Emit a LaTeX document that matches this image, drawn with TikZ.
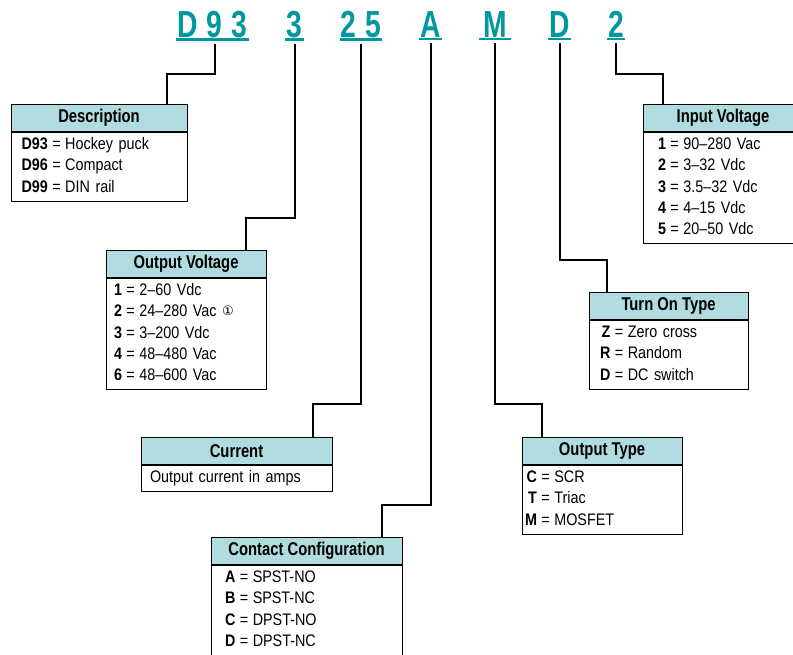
\documentclass[tikz,border=0pt]{standalone}
\usepackage{fontspec}
\setmainfont{Liberation Sans}[FakeStretch=0.86]
\newfontfamily\headfont{Liberation Sans}[FakeStretch=0.8]
\newfontfamily\codefont{Liberation Sans}[FakeStretch=0.75]
\newfontfamily\symfont{DejaVu Sans}
\usepackage{xcolor}
\usetikzlibrary{positioning,calc}
\definecolor{codeteal}{RGB}{0,151,158}
\definecolor{headblue}{RGB}{176,220,224}
\setlength{\parindent}{0pt}
\newcommand{\codelist}[2]{\begin{tabular}{@{\hspace{#1}}r@{\hspace{4.5pt}=\hspace{4.5pt}}l@{}}#2\end{tabular}}

\begin{document}
\begin{tikzpicture}[
    x=1pt, y=-1pt,
    code/.style={font=\codefont\bfseries\fontsize{37.7}{40}\selectfont, text=codeteal, inner xsep=1pt, inner ysep=2pt, anchor=base},
    uline/.style={codeteal, line width=2.3pt},
    head/.style={draw, line width=0.8pt, fill=headblue, font=\headfont\bfseries\fontsize{18.5}{20}\selectfont, minimum height=27pt, inner sep=0pt, anchor=north},
    body/.style={draw, line width=0.8pt, font=\fontsize{16.7}{21.3}\selectfont, inner xsep=0pt, inner ysep=2.5pt, align=left},
    conn/.style={line width=2pt}
]
    \useasboundingbox (0,0) rectangle (793,654);

    % Part number
    \node[code] (cdesc) at (212.5,37) {D\hspace{9pt}9\hspace{9pt}3};
    \node[code] (cov) at (294.5,37) {3};
    \node[code] (ccur) at (361,37) {2\hspace{9pt}5};
    \node[code] (ccc) at (430.5,37) {A};
    \node[code, minimum width=32pt] (cot) at (495,37) {M};
    \node[code] (cto) at (559.5,37) {D};
    \node[code] (civ) at (616,37) {2};
    \foreach \c in {cdesc,cov,ccur,ccc,cot,cto,civ}
        \draw[uline] (\c.south west) -- (\c.south east);

    % Left column
    \node[head, minimum width=176pt] (desch) at (99,104) {Description};
    \node[body, text width=176pt, below=0pt of desch] (descb) {\codelist{10.5pt}{\textbf{D93} & Hockey puck\\ \textbf{D96} & Compact\\ \textbf{D99} & DIN rail}};

    \node[head, minimum width=160pt] (ovh) at (186,250) {Output Voltage};
    \node[body, text width=160pt, below=0pt of ovh] (ovb) {\codelist{8pt}{\textbf{1} & 2--60 Vdc\\ \textbf{2} & 24--280 Vac {\symfont\fontsize{13}{12}\selectfont\raisebox{1.5pt}{①}}\\ \textbf{3} & 3--200 Vdc\\ \textbf{4} & 48--480 Vac\\ \textbf{6} & 48--600 Vac}};

    \node[head, minimum width=191pt] (curh) at (236.5,437) {Current};
    \node[body, text width=191pt, below=0pt of curh] (curb) {\begin{tabular}{@{\hspace{9pt}}l@{}}Output current in amps\end{tabular}};

    \node[head, minimum width=191pt] (cch) at (306.5,537) {Contact Configuration};
    \node[body, text width=191pt, below=0pt of cch] (ccb) {\codelist{14pt}{\textbf{A} & SPST-NO\\ \textbf{B} & SPST-NC\\ \textbf{C} & DPST-NO\\ \textbf{D} & DPST-NC}};

    % Right column
    \node[head, minimum width=160pt] (ivh) at (723,104) {Input Voltage};
    \node[body, text width=160pt, below=0pt of ivh] (ivb) {\codelist{15pt}{\textbf{1} & 90--280 Vac\\ \textbf{2} & 3--32 Vdc\\ \textbf{3} & 3.5--32 Vdc\\ \textbf{4} & 4--15 Vdc\\ \textbf{5} & 20--50 Vdc}};

    \node[head, minimum width=159pt] (toh) at (668.5,292) {Turn On Type};
    \node[body, text width=159pt, below=0pt of toh] (tob) {\codelist{11pt}{\textbf{Z} & Zero cross\\ \textbf{R} & Random\\ \textbf{D} & DC switch}};

    \node[head, minimum width=160pt] (oth) at (602,437) {Output Type};
    \node[body, text width=160pt, below=0pt of oth] (otb) {\codelist{3pt}{\textbf{C} & SCR\\ \textbf{T} & Triac\\ \textbf{M} & MOSFET}};

    % Connectors
    \draw[conn] ([xshift=2pt, yshift=-4pt]cdesc.south) |- ($(desch.north east)+(-20pt,30pt)$) -- ([xshift=-20pt]desch.north east);
    \draw[conn] ([yshift=-4pt]cov.south) |- ($(ovh.north east)+(-20pt,32pt)$) -- ([xshift=-20pt]ovh.north east);
    \draw[conn] ([yshift=-4pt]ccur.south) |- ($(curh.north east)+(-19pt,33pt)$) -- ([xshift=-19pt]curh.north east);
    \draw[conn] ([yshift=-4pt]ccc.south) |- ($(cch.north east)+(-20pt,32pt)$) -- ([xshift=-20pt]cch.north east);
    \draw[conn] ([yshift=-4pt]cot.south) |- ($(oth.north west)+(20pt,33pt)$) -- ([xshift=20pt]oth.north west);
    \draw[conn] ([yshift=-4pt]cto.south) |- ($(toh.north west)+(18pt,32pt)$) -- ([xshift=18pt]toh.north west);
    \draw[conn] ([yshift=-4pt]civ.south) |- ($(ivh.north west)+(20pt,30pt)$) -- ([xshift=20pt]ivh.north west);
\end{tikzpicture}
\end{document}
